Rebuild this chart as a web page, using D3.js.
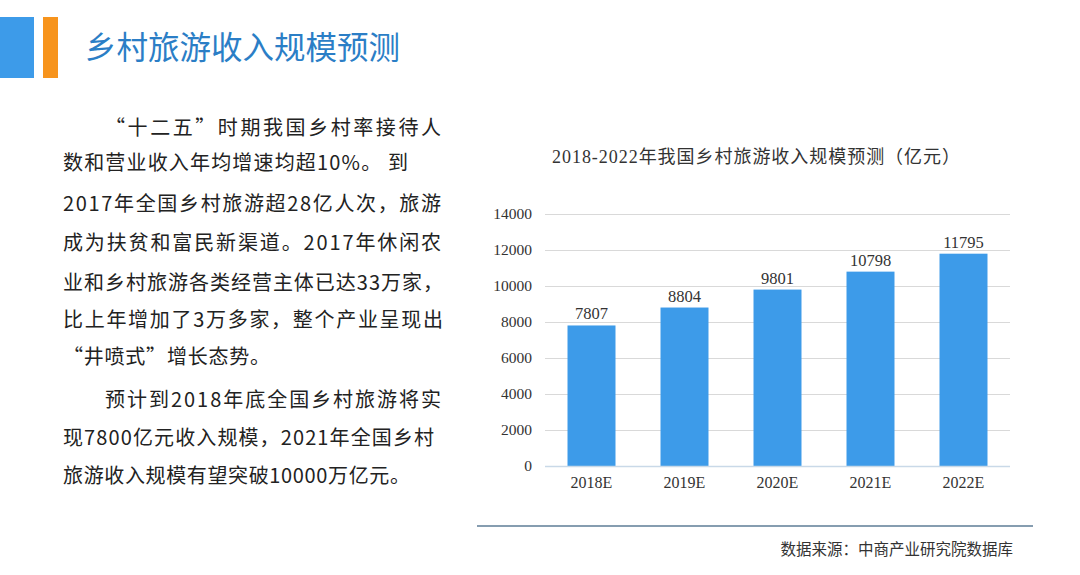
<!DOCTYPE html>
<html><head><meta charset="utf-8">
<script src="https://cdn.jsdelivr.net/npm/d3@7"></script>
<style>body{margin:0;background:#fff}svg{display:block}</style>
</head><body>
<svg id="c" width="1080" height="575"></svg>
<script>
const categories = ["2018E","2019E","2020E","2021E","2022E"];
const values = [7807, 8804, 9801, 10798, 11795];
const yTicks = [0,2000,4000,6000,8000,10000,12000,14000];
const headerTitle = "乡村旅游收入规模预测";
const chartTitle = "2018-2022年我国乡村旅游收入规模预测（亿元）";
const sourceText = "数据来源：中商产业研究院数据库";
const bodyLines = [
  "“十二五”时期我国乡村率接待人",
  "数和营业收入年均增速均超10%。 到",
  "2017年全国乡村旅游超28亿人次，旅游",
  "成为扶贫和富民新渠道。2017年休闲农",
  "业和乡村旅游各类经营主体已达33万家，",
  "比上年增加了3万多家，整个产业呈现出",
  "“井喷式”增长态势。",
  "预计到2018年底全国乡村旅游将实",
  "现7800亿元收入规模，2021年全国乡村",
  "旅游收入规模有望突破10000万亿元。"
];
// layout for body lines (x start, y baseline, target width)
const bodyLayout = [
  [105,135,336],[63,170,345],[63,211,378],[63,250,378],[63,290,380],
  [63,327,380],[63,364,207],[105,407,336],[63,445,371],[63,483,347]
];

const svg = d3.select("#c");
const cjk = "'Noto Sans CJK SC', sans-serif";
const serif = "'Liberation Serif', 'Noto Sans CJK SC', serif";

// header
svg.append("rect").attr("x",0).attr("y",17).attr("width",34).attr("height",61).attr("fill","#3d9be9");
svg.append("rect").attr("x",43).attr("y",17).attr("width",15).attr("height",61).attr("fill","#f7941d");
svg.append("text").attr("x",85).attr("y",59).attr("font-family",cjk).attr("font-size",31.5)
  .attr("fill","#2b7ec6").text(headerTitle);

// body text
bodyLines.forEach((t,i)=>{
  const [x,y,w] = bodyLayout[i];
  svg.append("text").attr("x",x).attr("y",y).attr("font-family",cjk)
    .attr("font-size",20).attr("fill","#222").text(t)
    .attr("textLength",w).attr("lengthAdjust","spacing");
});

// chart
const y = d3.scaleLinear().domain([0,14000]).range([466,214]);
const x = d3.scaleBand().domain(categories).range([545,1010]).paddingInner(0.484).paddingOuter(0.242);

svg.append("text").attr("x",756).attr("y",163).attr("text-anchor","middle")
  .attr("font-family",serif).attr("font-size",18).attr("fill","#333")
  .attr("textLength",408).attr("lengthAdjust","spacing").text(chartTitle);

const yAxis = svg.append("g").attr("transform","translate(545,0)")
  .call(d3.axisLeft(y).tickValues(yTicks).tickSize(-465).tickFormat(d3.format("d")).tickPadding(13));
yAxis.select(".domain").remove();
yAxis.selectAll(".tick line").attr("stroke","#d9d9d9").attr("stroke-width",1);
yAxis.selectAll(".tick text").attr("font-family",serif).attr("font-size",15.5).attr("fill","#333");

svg.selectAll("rect.bar").data(values).join("rect").attr("class","bar")
  .attr("x",(d,i)=>x(categories[i])).attr("width",x.bandwidth())
  .attr("y",d=>y(d)).attr("height",d=>y(0)-y(d)).attr("fill","#3d9be9");

svg.append("line").attr("x1",545).attr("x2",1010).attr("y1",y(0)+0.5).attr("y2",y(0)+0.5)
  .attr("stroke","#c9d9e8").attr("stroke-width",1.5);

svg.selectAll("text.val").data(values).join("text").attr("class","val")
  .attr("x",(d,i)=>x(categories[i])+x.bandwidth()/2).attr("y",d=>y(d)-6)
  .attr("text-anchor","middle").attr("font-family",serif).attr("font-size",16.5).attr("fill","#333")
  .text(d=>d);

const xAxis = svg.append("g").attr("transform",`translate(0,${y(0)})`)
  .call(d3.axisBottom(x).tickSize(0).tickPadding(11));
xAxis.select(".domain").remove();
xAxis.selectAll(".tick text").attr("font-family",serif).attr("font-size",16).attr("fill","#333");

// source
svg.append("line").attr("x1",477).attr("x2",1033).attr("y1",526).attr("y2",526)
  .attr("stroke","#5e7c96").attr("stroke-width",1.5);
svg.append("text").attr("x",1013).attr("y",555).attr("text-anchor","end")
  .attr("font-family",cjk).attr("font-size",15.5).attr("fill","#333").text(sourceText);
</script>
</body></html>
